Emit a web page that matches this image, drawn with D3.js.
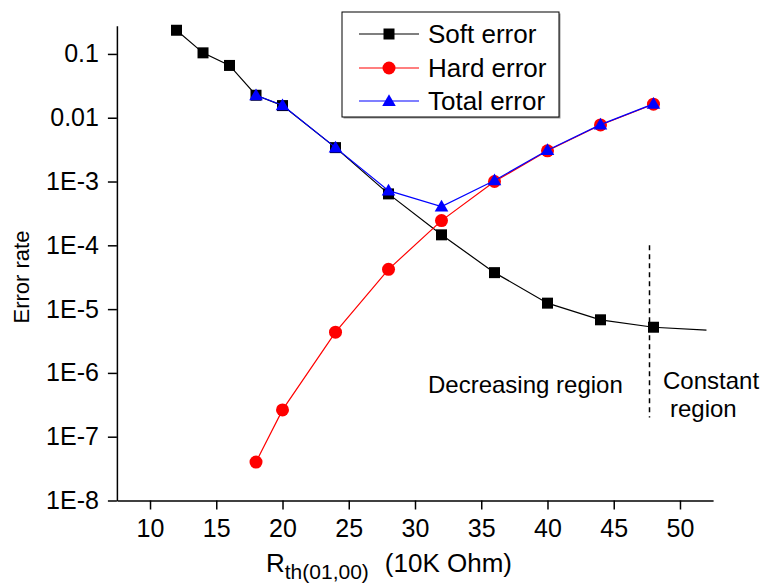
<!DOCTYPE html>
<html>
<head>
<meta charset="utf-8">
<script src="https://cdn.jsdelivr.net/npm/d3@7"></script>
<style>
  body { margin: 0; background: #fff; }
  svg { display: block; font-family: "Liberation Sans", Arial, sans-serif; }
</style>
</head>
<body>
<svg id="chart" width="768" height="585"></svg>
<script>
// values
const softX = [12, 14, 16, 18, 20, 24, 28, 32, 36, 40, 44, 48, 52];
const softY = [0.235, 0.104, 0.066, 0.0225, 0.0155, 0.0034, 6.4e-4, 1.46e-4, 3.73e-5, 1.24e-5, 6.8e-6, 5.2e-6, 4.7e-6];
const softMarked = [1, 1, 1, 1, 1, 1, 1, 1, 1, 1, 1, 1, 0]; // last point is line only

const hardX = [18, 20, 24, 28, 32, 36, 40, 44, 48];
const hardY = [4.0e-8, 2.63e-7, 4.35e-6, 4.2e-5, 2.44e-4, 1.0e-3, 3.03e-3, 7.7e-3, 0.0163];

const totalX = [18, 20, 24, 28, 32, 36, 40, 44, 48];
const totalY = [0.0225, 0.0157, 0.0034, 7.2e-4, 4.06e-4, 1.04e-3, 3.1e-3, 7.8e-3, 0.0165];

const xTicks = [10, 15, 20, 25, 30, 35, 40, 45, 50];
const xMinor = [7.5, 12.5, 17.5, 22.5, 27.5, 32.5, 37.5, 42.5, 47.5, 52.5];
const yTicks = [1e-8, 1e-7, 1e-6, 1e-5, 1e-4, 1e-3, 1e-2, 1e-1];
const yLabels = ["1E-8", "1E-7", "1E-6", "1E-5", "1E-4", "1E-3", "0.01", "0.1"];

const boundaryX = 47.7;
const boundaryY = [1e-4, 2e-7];

const seriesNames = ["Soft error", "Hard error", "Total error"];

const svg = d3.select("#chart");

const x = d3.scaleLinear().domain([7.5, 52.5]).range([116.9, 713.1]);
const y = d3.scaleLog().domain([1e-8, 0.277]).range([500.5, 25.7]);

// minor log ticks 2..9 per decade
const yMinor = [];
yTicks.forEach(t => {
    for (let k = 2; k <= 9; k++) {
        const v = t * k;
        if (v <= y.domain()[1]) yMinor.push(v);
    }
});

// y axis
const gy = svg.append("g").attr("transform", `translate(${x.range()[0]},0)`);
gy.call(d3.axisLeft(y).tickValues(yMinor).tickFormat("").tickSize(4).tickSizeOuter(0));
gy.call(d3.axisLeft(y).tickValues(yTicks).tickFormat((d, i) => yLabels[i])
    .tickSize(9).tickPadding(9).tickSizeOuter(0));

// x axis
const gx = svg.append("g").attr("transform", `translate(0,${y.range()[0]})`);
gx.call(d3.axisBottom(x).tickValues(xMinor).tickFormat("").tickSize(5).tickSizeOuter(0));
gx.call(d3.axisBottom(x).tickValues(xTicks).tickSize(9).tickPadding(10).tickSizeOuter(0));

svg.selectAll(".tick text")
    .attr("fill", "#000")
    .style("font-size", "25px")
    .style("font-family", "Liberation Sans, Arial, sans-serif");
svg.selectAll(".domain, .tick line").attr("stroke", "#000").attr("stroke-width", 1.5);

// axis titles
svg.append("text")
    .attr("transform", "translate(29,277) rotate(-90)")
    .attr("text-anchor", "middle")
    .style("font-size", "22px")
    .text("Error rate");

const xt = svg.append("text")
    .attr("x", 266)
    .attr("y", 572)
    .style("font-size", "26px");
xt.append("tspan").text("R");
xt.append("tspan").attr("dy", 7).style("font-size", "21px").text("th(01,00)");
xt.append("tspan").attr("dy", -7).attr("dx", 16).text("(10K Ohm)");

// region divider
svg.append("line")
    .attr("x1", x(boundaryX)).attr("x2", x(boundaryX))
    .attr("y1", y(boundaryY[0])).attr("y2", y(boundaryY[1]))
    .attr("stroke", "#000")
    .attr("stroke-width", 1.5)
    .attr("stroke-dasharray", "5,4");

svg.append("text").attr("x", 428).attr("y", 393).style("font-size", "24px").text("Decreasing region");
svg.append("text").attr("x", 663).attr("y", 389).style("font-size", "24px").text("Constant");
svg.append("text").attr("x", 670).attr("y", 417).style("font-size", "24px").text("region");

// series
const line = d3.line().x(d => x(d[0])).y(d => y(d[1]));

const soft = softX.map((v, i) => [v, softY[i], softMarked[i]]);
const hard = hardX.map((v, i) => [v, hardY[i]]);
const total = totalX.map((v, i) => [v, totalY[i]]);

const sq = d3.symbol().type(d3.symbolSquare).size(121);
const tri = d3.symbol().type(d3.symbolTriangle).size(80);

svg.append("path").datum(soft)
    .attr("fill", "none").attr("stroke", "#000").attr("stroke-width", 1.2)
    .attr("d", line);
svg.selectAll(".soft").data(soft.filter(d => d[2]))
    .join("path").attr("class", "soft")
    .attr("transform", d => `translate(${x(d[0])},${y(d[1])})`)
    .attr("d", sq).attr("fill", "#000");

svg.append("path").datum(hard)
    .attr("fill", "none").attr("stroke", "#ff0000").attr("stroke-width", 1.2)
    .attr("d", line);
svg.selectAll(".hard").data(hard)
    .join("circle").attr("class", "hard")
    .attr("cx", d => x(d[0])).attr("cy", d => y(d[1]))
    .attr("r", 6.5).attr("fill", "#ff0000");

svg.append("path").datum(total)
    .attr("fill", "none").attr("stroke", "#0000ff").attr("stroke-width", 1.2)
    .attr("d", line);
svg.selectAll(".total").data(total)
    .join("path").attr("class", "total")
    .attr("transform", d => `translate(${x(d[0])},${y(d[1]) + 1})`)
    .attr("d", tri).attr("fill", "#0000ff");

// legend
const lg = svg.append("g");
lg.append("rect").attr("x", 343.5).attr("y", 13.5).attr("width", 217).attr("height", 105)
    .attr("fill", "#999");
lg.append("rect").attr("x", 342).attr("y", 12).attr("width", 217).attr("height", 105)
    .attr("fill", "#fff").attr("stroke", "#000").attr("stroke-width", 1);

const legendColors = ["#000", "#ff0000", "#0000ff"];
const legendY = [34, 68, 101];
seriesNames.forEach((name, i) => {
    const row = lg.append("g").attr("transform", `translate(0,${legendY[i]})`);
    row.append("line").attr("x1", 359).attr("x2", 419)
        .attr("stroke", legendColors[i]).attr("stroke-width", 1.2);
    if (i === 0) row.append("path").attr("transform", "translate(389,0)").attr("d", sq).attr("fill", "#000");
    if (i === 1) row.append("circle").attr("cx", 389).attr("r", 6.5).attr("fill", "#ff0000");
    if (i === 2) row.append("path").attr("transform", "translate(389,1)").attr("d", tri).attr("fill", "#0000ff");
    row.append("text").attr("x", 428).attr("y", 9)
        .style("font-size", "26px").text(name);
});
</script>
</body>
</html>
